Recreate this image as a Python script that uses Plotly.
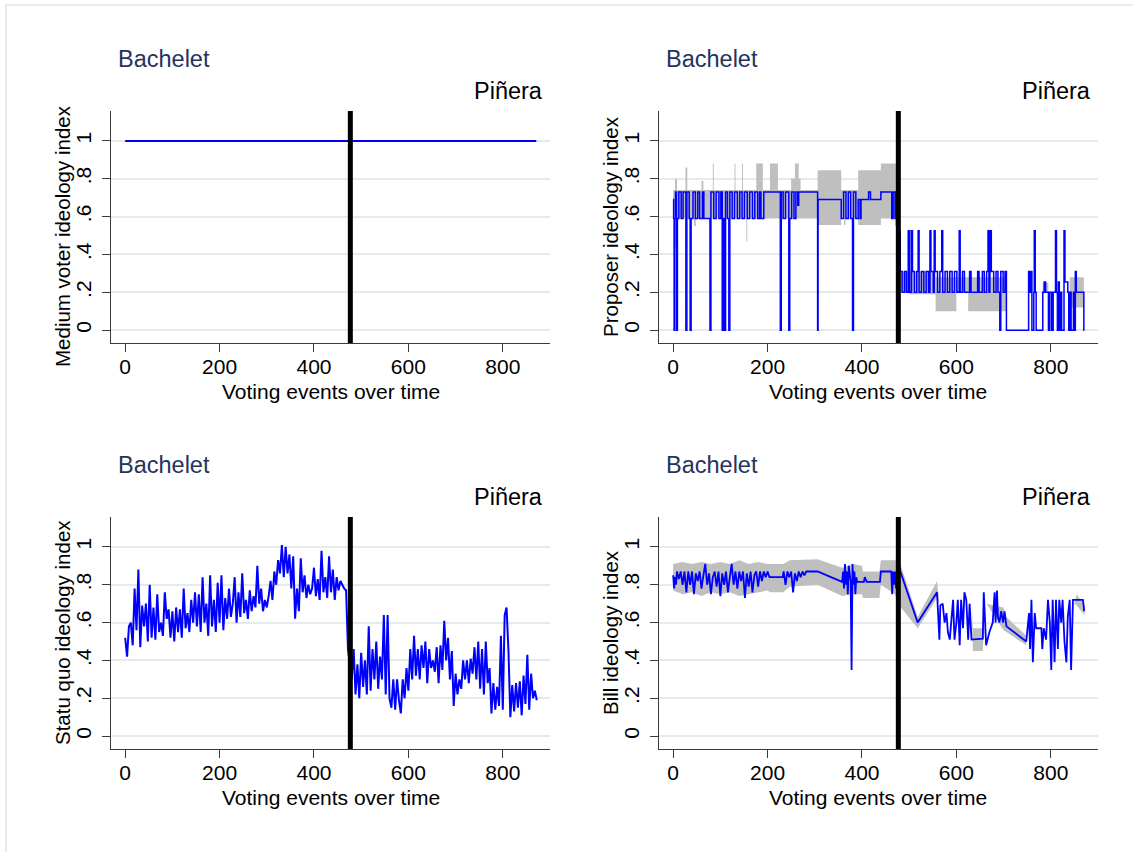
import plotly.graph_objects as go

# ---------------- data ----------------
break_event = 477

medvoter_x = [0, 871]
medvoter_y = [1, 1]

# Proposer ideology index: change points (step line)
prop_pairs = [
    (0, .69), (1, .59), (2, 0), (3, .59), (5, .73), (7, 0), (9, .59), (12, .73), (17, .59), (21, .73),
    (27, 0), (29, .73), (34, .59), (36, 0), (38, .59), (42, .73), (47, .59), (52, .73), (56, .59), (62, .73),
    (65, .59), (78, 0), (80, .73), (86, .59), (91, .73), (97, .59), (101, .73), (104, 0), (106, .59), (109, 0),
    (111, .73), (115, .59), (118, 0), (120, .73), (125, .59), (130, .73), (136, .59), (141, .73), (146, .59), (151, .73),
    (157, .59), (162, .73), (168, .59), (173, .73), (179, .59), (183, .73), (186, .59), (192, .73), (227, 0), (229, .73),
    (233, .59), (238, .73), (245, 0), (247, .59), (251, .73), (256, .59), (260, .73), (264, .66), (266, .73), (306, 0),
    (307, .69), (356, .59), (361, .73), (366, .59), (371, .73), (376, .59), (380, 0), (382, .73), (387, .59), (392, .69),
    (396, .59), (398, .69), (414, .73), (418, .69), (440, .73), (463, .59), (466, .73), (470, .59), (472, .73), (476, .31),
    (479, .525), (481, .31), (485, .2), (490, .31), (494, .2), (498, .525), (501, .2), (505, .525), (507, .31), (511, .2),
    (516, .31), (519, .525), (521, .2), (526, .31), (531, .2), (536, .31), (541, .2), (544, .525), (546, .31), (551, .2),
    (553, .525), (555, .31), (560, .2), (565, .31), (569, .525), (571, .2), (576, .31), (581, .2), (586, .31), (591, .2),
    (596, .31), (601, .2), (606, .525), (608, .2), (613, .31), (617, .2), (628, .31), (631, .2), (645, .31), (648, .2),
    (655, .31), (659, .2), (664, .31), (667, .525), (669, .2), (671, .525), (674, .31), (679, .2), (684, .31), (688, .2),
    (692, 0), (694, .31), (699, .2), (703, .31), (706, 0), (753, .31), (755, .2), (758, .31), (760, 0), (764, .2),
    (765, .525), (767, .2), (769, 0), (783, .2), (786, .255), (789, .2), (795, 0), (798, .2), (802, 0), (805, .2),
    (810, .525), (812, .2), (814, 0), (816, .255), (818, 0), (821, .2), (823, 0), (828, .525), (830, .255), (836, .2),
    (838, 0), (841, .2), (843, 0), (848, .2), (850, 0), (852, .31), (854, .2), (870, 0), (871, 0),
]
prop_x = [p[0] for p in prop_pairs]
prop_y = [p[1] for p in prop_pairs]

prop_band_x = [0, 4, 8, 26, 30, 44, 48, 60, 64, 84, 86, 110, 112, 130, 132, 146, 148, 155, 157, 176,
               190, 205, 222, 250, 258, 266, 270, 306, 356, 362, 365, 392, 440, 470, 476, 480, 500, 556, 600, 625,
               692, 706, 753, 760, 783, 795, 840, 870]
prop_band_lo = [.59, .44, .59, .59, .59, .55, .59, .59, .59, .59, .59, .45, .59, .59, .59, .59, .59, .47, .59, .59,
                .59, .59, .59, .59, .59, .59, .59, .555, .59, .555, .59, .555, .59, .55, .10, .20, .19, .10, .20, .10,
                .10, 0, .20, 0, .20, 0, .12, 0]
prop_band_hi = [.74, .80, .74, .86, .74, .74, .74, .79, .74, .88, .74, .74, .74, .88, .74, .88, .74, .74, .74, .88,
                .74, .88, .74, .80, .88, .80, .74, .845, .74, .74, .74, .845, .88, .88, .90, .31, .31, .28, .28, .28,
                .28, 0, .31, 0, .25, 0, .28, 0]

# Statu quo ideology index: one value every 4 voting events (0 .. 872)
sq_step = 4
sq_y = [
    .52, .42, .58, .60, .48, .78, .56, .88, .47, .69,
    .58, .70, .50, .80, .52, .68, .51, .75, .55, .60,
    .53, .76, .62, .67, .52, .66, .50, .68, .55, .67,
    .52, .78, .57, .65, .55, .72, .60, .76, .58, .75,
    .55, .84, .60, .70, .53, .85, .58, .72, .55, .81,
    .60, .85, .56, .73, .62, .78, .63, .70, .84, .60,
    .76, .63, .86, .65, .72, .62, .77, .66, .74, .68,
    .90, .70, .78, .66, .72, .68, .74, .82, .72, .87,
    .80, .93, .86, 1.01, .84, 1.0, .86, .96, .78, .95,
    .62, .78, .66, .94, .76, .85, .73, .80, .75, .78,
    .89, .74, .83, .72, .98, .76, .84, .73, .95, .76,
    .88, .72, .84, .77, .82, .80, .78, .77, .46, .38,
    .30, .46, .22, .38, .20, .44, .26, .40, .22, .58,
    .24, .46, .30, .50, .25, .42, .30, .64, .22, .64,
    .20, .15, .30, .14, .30, .19, .12, .30, .20, .36,
    .24, .46, .30, .53, .32, .46, .30, .48, .36, .50,
    .28, .46, .36, .40, .34, .47, .28, .48, .35, .61,
    .40, .52, .30, .45, .16, .33, .22, .30, .25, .40,
    .30, .40, .28, .41, .33, .47, .30, .50, .25, .46,
    .22, .50, .28, .36, .12, .28, .14, .26, .16, .53,
    .14, .64, .68, .45, .10, .27, .13, .28, .15, .29,
    .11, .32, .17, .43, .14, .33, .20, .24, .19,
]
sq_x = [i * sq_step for i in range(len(sq_y))]

# Bill ideology index
bill_pairs = [
    (0, .85), (2, .78), (4, .84), (6, .80), (8, .87), (12, .83), (16, .87), (20, .80), (24, .87), (28, .76),
    (32, .87), (36, .80), (40, .87), (44, .75), (48, .86), (52, .82), (56, .87), (60, .78), (64, .85), (68, .91),
    (72, .80), (76, .86), (80, .75), (84, .84), (88, .87), (92, .79), (96, .87), (100, .74), (104, .86), (108, .80),
    (112, .87), (116, .76), (120, .84), (124, .91), (128, .80), (132, .87), (136, .78), (140, .87), (144, .82), (148, .87),
    (152, .73), (156, .86), (160, .79), (164, .87), (168, .76), (172, .85), (176, .87), (180, .79), (184, .87), (188, .82),
    (192, .87), (196, .84), (200, .87), (204, .84), (232, .84), (234, .87), (238, .80), (242, .87), (246, .84), (250, .87),
    (254, .76), (258, .86), (262, .82), (266, .87), (270, .84), (274, .87), (278, .85), (282, .87), (306, .87), (358, .815),
    (360, .87), (362, .78), (364, .91), (366, .80), (368, .87), (370, .75), (372, .90), (374, .85), (376, .82), (378, .35),
    (380, .91), (382, .80), (384, .87), (386, .75), (388, .84), (390, .815), (404, .815), (406, .84), (410, .815), (438, .815),
    (440, .87), (462, .87), (464, .75), (466, .87), (468, .80), (470, .87), (472, .78), (476, .91),
    (518, .60), (559, .76), (564, .51), (566, .69), (571, .70), (575, .60), (579, .65), (582, .55), (586, .51), (589, .60),
    (593, .72), (596, .51), (600, .60), (603, .72), (607, .48), (610, .72), (614, .57), (617, .76), (621, .72), (625, .51),
    (628, .70), (632, .51), (656, .515), (658, .76), (663, .48), (670, .55), (677, .60), (681, .76), (683, .60), (686, .77),
    (688, .63), (691, .60), (695, .66), (699, .60), (702, .66), (706, .58), (748, .50), (754, .65), (756, .46), (759, .72),
    (762, .39), (766, .65), (769, .57), (780, .57), (782, .46), (785, .57), (790, .51), (794, .72), (798, .60), (801, .35),
    (804, .72), (808, .39), (811, .72), (815, .46), (818, .72), (822, .60), (825, .72), (829, .50), (833, .39), (836, .63),
    (840, .72), (843, .35), (847, .72), (868, .72), (871, .66),
]
bill_x = [p[0] for p in bill_pairs]
bill_y = [p[1] for p in bill_pairs]

bill_band_x = [0, 20, 40, 60, 80, 100, 120, 140, 160, 180, 200, 205, 233, 247, 306, 358, 380, 400, 402, 437,
               440, 470, 476, 518, 559, 564, 632, 635, 656, 660, 664, 700, 706, 748, 752, 850, 855, 871]
bill_band_lo = [.77, .75, .76, .74, .76, .75, .76, .74, .75, .76, .77, .76, .76, .79, .80, .74, .75, .75, .73, .73,
                .80, .75, .70, .57, .73, .70, .70, .45, .45, .70, .70, .56, .55, .48, .70, .70, .69, .64]
bill_band_hi = [.91, .92, .91, .92, .91, .92, .91, .93, .91, .92, .91, .91, .91, .93, .935, .89, .91, .90, .87, .87,
                .93, .93, .95, .63, .82, .70, .70, .57, .57, .70, .70, .68, .63, .53, .70, .70, .75, .69]

y_tickvals = [0, .2, .4, .6, .8, 1]
y_ticktext = ["0", ".2", ".4", ".6", ".8", "1"]
x_tickvals = [0, 200, 400, 600, 800]
y_titles = ["Medium voter ideology index", "Proposer ideology index",
            "Statu quo ideology index", "Bill ideology index"]
x_title = "Voting events over time"
left_label = "Bachelet"
right_label = "Piñera"

# ---------------- figure ----------------
W, H = 1133, 852
FONT = "Liberation Sans, Arial, Helvetica, sans-serif"
BLUE = "#0000ff"
BAND = "#bfbfbf"


def px(v):
    return v / W


def py(v):
    return 1 - v / H


# plot-region boxes in pixels: (left, right, top, bottom)
boxes = [(111, 550, 111, 343), (659, 1098, 111, 343),
         (111, 550, 517, 749), (659, 1098, 517, 749)]

fig = go.Figure()


def ax(i):
    return ("x" if i == 0 else f"x{i+1}"), ("y" if i == 0 else f"y{i+1}")


def step_polygon(x, lo, hi):
    # closed outline of a stepwise (hv) band, upper edge forward, lower edge backward
    ux, uy, lx, ly = [], [], [], []
    for k in range(len(x)):
        ux.append(x[k]); uy.append(hi[k])
        lx.append(x[k]); ly.append(lo[k])
        if k + 1 < len(x):
            ux.append(x[k + 1]); uy.append(hi[k])
            lx.append(x[k + 1]); ly.append(lo[k])
    return ux + lx[::-1], uy + ly[::-1]


def linear_polygon(x, lo, hi):
    return list(x) + list(x)[::-1], list(hi) + list(lo)[::-1]


def band(i, poly):
    xa, ya = ax(i)
    bx, by = poly
    fig.add_trace(go.Scatter(x=bx, y=by, mode="lines", line=dict(width=0, color=BAND),
                             fill="toself", fillcolor=BAND, xaxis=xa, yaxis=ya,
                             showlegend=False, hoverinfo="skip"))


def line(i, x, y, shape="linear", width=2):
    xa, ya = ax(i)
    fig.add_trace(go.Scatter(x=x, y=y, mode="lines", line=dict(width=width, color=BLUE, shape=shape),
                             xaxis=xa, yaxis=ya, showlegend=False))


line(0, medvoter_x, medvoter_y)
band(1, step_polygon(prop_band_x, prop_band_lo, prop_band_hi))
line(1, prop_x, prop_y, "hv", 1.5)
line(2, sq_x, sq_y)
band(3, linear_polygon(bill_band_x, bill_band_lo, bill_band_hi))
line(3, bill_x, bill_y, "linear", 1.8)

layout = dict(width=W, height=H, margin=dict(l=0, r=0, t=0, b=0, pad=0),
              paper_bgcolor="white", plot_bgcolor="white", showlegend=False,
              font=dict(family=FONT, color="black", size=21))
annotations = []
shapes = []
for i, (l, r, t, b) in enumerate(boxes):
    xa, ya = ax(i)
    xkey = "xaxis" if i == 0 else f"xaxis{i+1}"
    ykey = "yaxis" if i == 0 else f"yaxis{i+1}"
    layout[xkey] = dict(domain=[px(l), px(r)], anchor=ya, range=[-30, 900],
                        tickvals=x_tickvals, showgrid=False, zeroline=False,
                        showline=True, linecolor="#3a3a3a", linewidth=1.3,
                        ticks="outside", ticklen=8, tickwidth=1.3, tickcolor="#3a3a3a",
                        ticklabelstandoff=-3,
                        tickfont=dict(family=FONT, size=21, color="black"))
    layout[ykey] = dict(domain=[py(b), py(t)], anchor=xa, range=[-0.068, 1.158],
                        tickvals=y_tickvals, ticktext=y_ticktext, tickangle=-90,
                        showgrid=True, gridcolor="#e3ebee", gridwidth=1.6, zeroline=False,
                        showline=True, linecolor="#3a3a3a", linewidth=1.3,
                        ticks="outside", ticklen=8, tickwidth=1.3, tickcolor="#3a3a3a",
                        ticklabelstandoff=2,
                        tickfont=dict(family=FONT, size=21, color="black"))
    # black break line
    shapes.append(dict(type="line", xref=xa, yref=f"{ya} domain", x0=break_event, x1=break_event,
                       y0=0, y1=1, line=dict(color="black", width=5), layer="above"))
    # titles
    annotations.append(dict(text=x_title, xref="paper", yref="paper", x=px((l + r) / 2), y=py(b + 48),
                            xanchor="center", yanchor="middle", showarrow=False,
                            font=dict(family=FONT, size=21, color="black")))
    annotations.append(dict(text=y_titles[i], xref="paper", yref="paper", x=px(l - 49),
                            y=py((t + b) / 2 + (9 if i == 0 else 0)), textangle=-90,
                            xanchor="center", yanchor="middle", showarrow=False,
                            font=dict(family=FONT, size=20.5, color="black")))
    annotations.append(dict(text=left_label, xref="paper", yref="paper", x=px(l + 5), y=py(t - 52),
                            xanchor="left", yanchor="middle", showarrow=False,
                            font=dict(family=FONT, size=23.5, color="#25335d")))
    annotations.append(dict(text=right_label, xref="paper", yref="paper", x=px(r - 5), y=py(t - 20),
                            xanchor="right", yanchor="middle", showarrow=False,
                            font=dict(family=FONT, size=23.5, color="black")))

# outer light frame
shapes.append(dict(type="rect", xref="paper", yref="paper", x0=px(6), x1=1.02, y0=-0.02, y1=py(5),
                   line=dict(color="#dde6ea", width=1.5), fillcolor="rgba(0,0,0,0)", layer="below"))

layout["annotations"] = annotations
layout["shapes"] = shapes
fig.update_layout(**layout)
fig.write_html("out.html", config={"displayModeBar": False},
               post_script="document.body.style.margin='0px';document.body.style.padding='0px';")
